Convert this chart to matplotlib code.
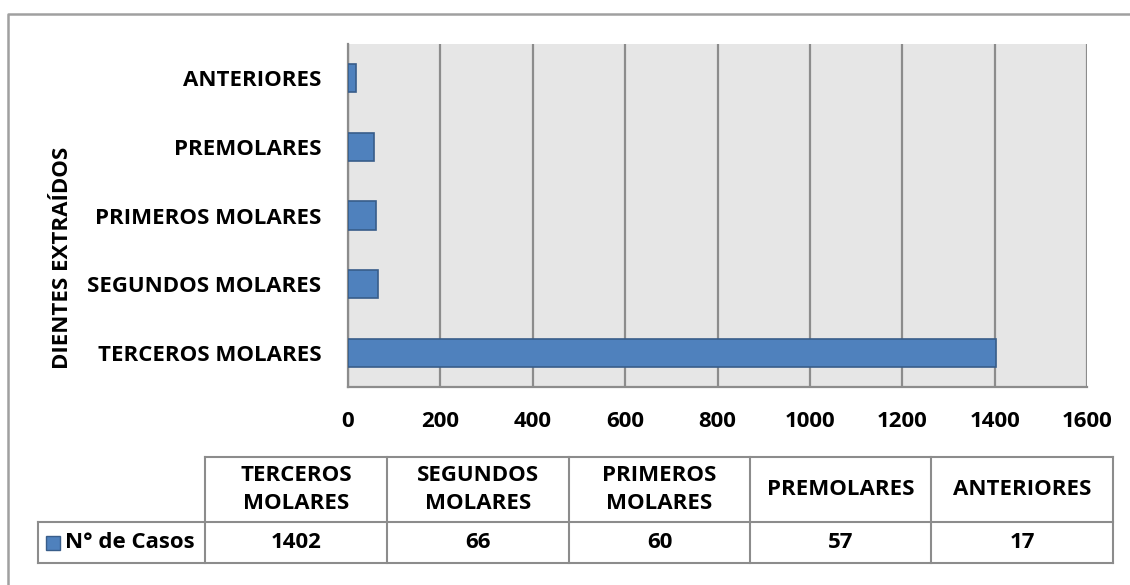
import matplotlib.pyplot as plt
from matplotlib.patches import Rectangle

# Data
categorias = ["TERCEROS MOLARES", "SEGUNDOS MOLARES", "PRIMEROS MOLARES", "PREMOLARES", "ANTERIORES"]
cabecera_tabla = ["TERCEROS\nMOLARES", "SEGUNDOS\nMOLARES", "PRIMEROS\nMOLARES", "PREMOLARES", "ANTERIORES"]
casos = [1402, 66, 60, 57, 17]
serie = "N° de Casos"
ticks_x = [0, 200, 400, 600, 800, 1000, 1200, 1400, 1600]

plt.rcParams['font.family'] = ['Open Sans', 'DejaVu Sans']
plt.rcParams['font.weight'] = 'bold'
fs = 16

W, H = 1130, 585
fig = plt.figure(figsize=(W / 100, H / 100), dpi=100)
fig.patch.set_facecolor('white')

azul = '#4f81bd'
borde_azul = '#385d8a'
gris = '#8c8c8c'

# Main bar chart area
ax = fig.add_axes([348 / W, 1 - 387 / H, (1087 - 348) / W, (387 - 44) / H])
ax.set_facecolor('#e6e6e6')
ax.barh(range(len(casos)), casos, height=0.41, color=azul, edgecolor=borde_azul, linewidth=1.2, zorder=3)
ax.set_xlim(0, 1600)
ax.set_ylim(-0.5, len(casos) - 0.5)
ax.set_xticks(ticks_x)
ax.set_xticklabels([str(t) for t in ticks_x], fontsize=fs, fontweight='bold')
ax.set_yticks(range(len(casos)))
ax.set_yticklabels(categorias, fontsize=fs, fontweight='bold')
ax.tick_params(axis='both', length=0)
ax.tick_params(axis='x', pad=17)
ax.tick_params(axis='y', pad=19)
ax.grid(True, axis='x', color=gris, linewidth=1.6, zorder=0)
for s in ['top', 'right']:
    ax.spines[s].set_visible(False)
ax.spines['left'].set_color(gris)
ax.spines['left'].set_linewidth(1.6)
ax.spines['bottom'].set_color(gris)
ax.spines['bottom'].set_linewidth(1.6)

# Overlay in pixel coordinates for border, axis title and data table
ov = fig.add_axes([0, 0, 1, 1], zorder=-1)
ov.set_xlim(0, W)
ov.set_ylim(H, 0)
ov.axis('off')
ov.plot([8, 8, W], [H, 14, 14], color='#a0a0a0', linewidth=1.8)

fig.text(62 / W, 1 - 258 / H, "DIENTES EXTRAÍDOS", rotation=90, ha='center', va='center',
         fontsize=fs, fontweight='bold')

tab = fig.add_axes([0, 0, 1, 1])
tab.set_xlim(0, W)
tab.set_ylim(H, 0)
tab.axis('off')
cols = [205, 387, 569, 750, 931, 1113]
y_top, y_mid, y_bot = 457, 522, 563
x_leg = 38
lc = '#8c8c8c'
lw = 1.5
tab.plot([cols[0], cols[-1]], [y_top, y_top], color=lc, linewidth=lw)
tab.plot([x_leg, cols[-1]], [y_mid, y_mid], color=lc, linewidth=lw)
tab.plot([x_leg, cols[-1]], [y_bot, y_bot], color=lc, linewidth=lw)
tab.plot([x_leg, x_leg], [y_mid, y_bot], color=lc, linewidth=lw)
for c in cols:
    tab.plot([c, c], [y_top, y_bot], color=lc, linewidth=lw)
for i in range(len(casos)):
    xc = (cols[i] + cols[i + 1]) / 2
    tab.text(xc, (y_top + y_mid) / 2, cabecera_tabla[i], ha='center', va='center',
             fontsize=fs, fontweight='bold', linespacing=1.4)
    tab.text(xc, (y_mid + y_bot) / 2, str(casos[i]), ha='center', va='center',
             fontsize=fs, fontweight='bold')
tab.add_patch(Rectangle((46, 536), 14, 14, facecolor=azul, edgecolor=borde_azul, linewidth=1))
tab.text(65, (y_mid + y_bot) / 2, serie, ha='left', va='center', fontsize=fs, fontweight='bold')

fig.savefig('out.png', dpi=100)
